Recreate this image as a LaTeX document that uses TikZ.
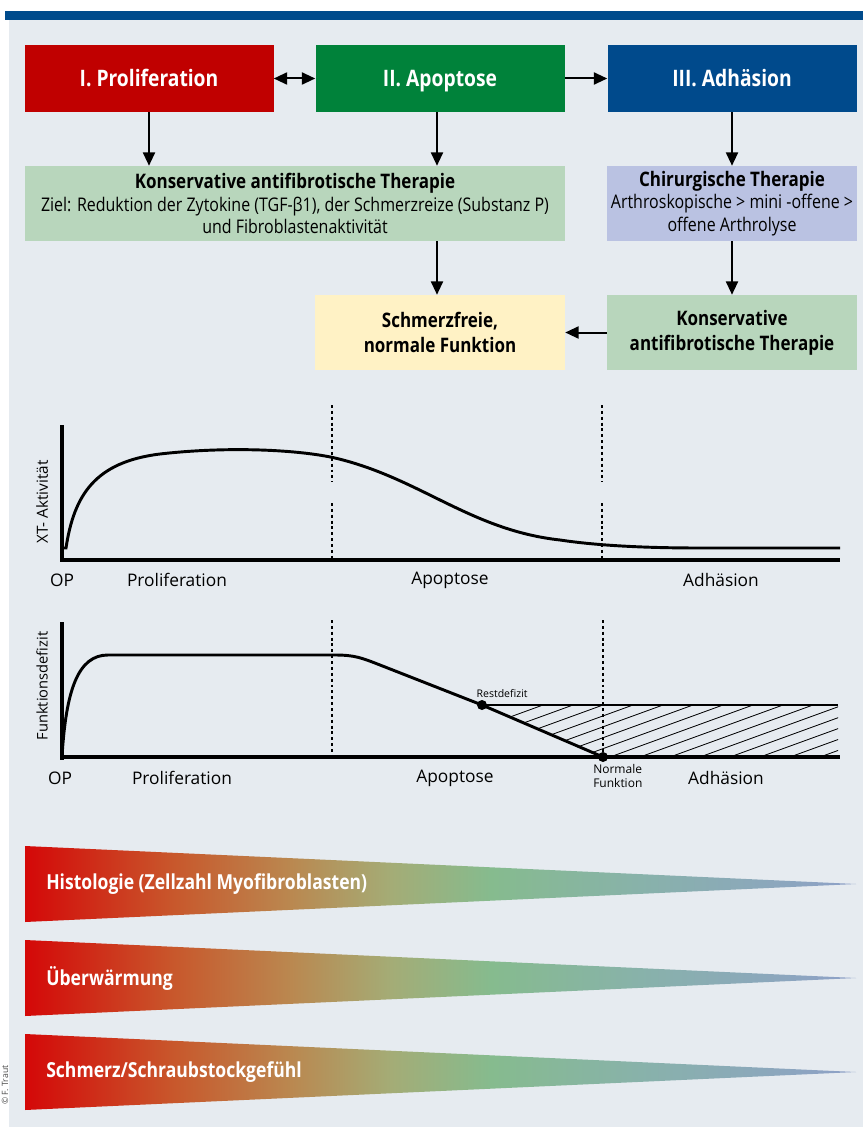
\documentclass[tikz,border=0pt]{standalone}
\usepackage{fontspec}
\setmainfont{Open Sans}
\newfontfamily\condfont{Open Sans}[FakeStretch=0.85]
\usetikzlibrary{calc, positioning, arrows.meta}

\definecolor{pagebg}{RGB}{230,235,240}
\definecolor{barblue}{RGB}{0,75,140}
\definecolor{prolred}{RGB}{192,0,0}
\definecolor{apopgreen}{RGB}{0,130,58}
\definecolor{adhblue}{RGB}{0,74,140}
\definecolor{konsgreen}{RGB}{184,214,188}
\definecolor{chirblue}{RGB}{186,194,226}
\definecolor{freeyellow}{RGB}{255,242,197}
\definecolor{wA}{RGB}{212,8,8}
\definecolor{wB}{RGB}{200,88,44}
\definecolor{wC}{RGB}{186,136,80}
\definecolor{wD}{RGB}{164,172,118}
\definecolor{wE}{RGB}{134,187,142}
\definecolor{wF}{RGB}{136,178,170}
\definecolor{wG}{RGB}{142,160,200}

\pgfdeclarehorizontalshading{wedgeshade}{100bp}{color(0bp)=(wA); color(25bp)=(wA);
  color(34bp)=(wB); color(41bp)=(wC); color(47bp)=(wD); color(53bp)=(wE);
  color(62bp)=(wF); color(75bp)=(wG); color(100bp)=(wG)}

\newdimen\pxu \pxu=0.75pt

\begin{document}
\begin{tikzpicture}
              [x=0.75pt, y=-0.75pt,
               phase/.style={minimum width=249\pxu, minimum height=67\pxu, inner sep=0pt,
                 text height=14pt, text depth=2pt,
                 text=white, font=\condfont\bfseries\fontsize{17}{20}\selectfont},
               therapy/.style={minimum width=250\pxu, minimum height=75\pxu, inner sep=0pt,
                 align=center, font=\condfont\fontsize{14.1}{17}\selectfont},
               result/.style={minimum width=250\pxu, minimum height=75\pxu, inner sep=0pt,
                 align=center, font=\condfont\bfseries\fontsize{15}{19}\selectfont},
               arr/.style={-{Triangle[length=10pt,width=9pt]}, line width=1.5pt},
               axis/.style={line width=2.5pt},
               curve/.style={line width=2.2pt},
               vdash/.style={line width=1.8pt, dash pattern=on 2.2pt off 2.2pt},
               hatch/.style={line width=0.6pt},
               dot/.style={circle, fill, inner sep=0pt, minimum size=7.5pt},
               lbl/.style={font=\fontsize{13}{15}\selectfont},
               small/.style={font=\fontsize{7.9}{9}\selectfont},
               wedgetext/.style={anchor=west, inner sep=0pt, text=white, font=\condfont\bfseries\fontsize{15.5}{18}\selectfont}]
              \useasboundingbox (0,0) rectangle (863,1127);
              % background %
              \fill[white] (0,0) rectangle (863,1127);
              \fill[pagebg] (9,20) rectangle (863,1127);
              \fill[barblue] (5,11) rectangle (863,20);
              \node[rotate=90, inner sep=0pt, font=\fontsize{6.5}{8}\selectfont, text=black!70] (copy) at (5,1085) {\copyright{} F. Traut};

              % nodes %
              \node[phase, fill=prolred] (prol) at (149,78.5) {I. Proliferation};
              \node[phase, fill=apopgreen] (apop) at (440,78.5) {II. Apoptose};
              \node[phase, fill=adhblue] (adh) at (732,78.5) {III. Adhäsion};
              \node[therapy, fill=konsgreen, minimum width=540\pxu] (kons) at (295,203.5)
                {{\bfseries\fontsize{15}{17}\selectfont Konservative antifibrotische Therapie}\\
                 Ziel: Reduktion der Zytokine (TGF-β1), der Schmerzreize (Substanz P)\\
                 und Fibroblastenaktivität};
              \node[therapy, fill=chirblue] (chir) at (732,203.5)
                {{\bfseries\fontsize{15}{17}\selectfont Chirurgische Therapie}\\
                 Arthroskopische > mini -offene >\\offene Arthrolyse};
              \node[result, fill=freeyellow] (frei) at (440,332.5) {Schmerzfreie,\\normale Funktion};
              \node[result, fill=konsgreen] (kons2) at (732,332.5) {Konservative\\antifibrotische Therapie};

              % edges %
              \draw[arr, {Triangle[length=10pt,width=9pt]}-{Triangle[length=10pt,width=9pt]}] (prol) -- (apop);
              \draw[arr] (apop) -- (adh);
              \draw[arr] (prol.south) -- (prol.south |- kons.north);
              \draw[arr] ([xshift=-3\pxu]apop.south) -- ([xshift=-3\pxu]apop.south |- kons.north);
              \draw[arr] (adh) -- (chir);
              \draw[arr] ([xshift=-3\pxu]kons.south -| frei.north) -- ([xshift=-3\pxu]frei.north);
              \draw[arr] (chir) -- (kons2);
              \draw[arr] (kons2) -- (frei);

              % graph XT activity %
              \draw[axis] (62,425) -- (62,562);
              \draw[axis] (61,560) -- (840,560);
              \draw[curve] (62,548) -- (66,548) .. controls (74,495) and (95,462) .. (160,454)
                .. controls (230,446) and (300,450) .. (335,458)
                .. controls (420,478) and (470,530) .. (560,540)
                .. controls (600,546) and (650,548) .. (700,548) -- (840,548);
              \foreach \xd in {332,602}{
                \draw[vdash] (\xd,405) -- (\xd,482);
                \draw[vdash] (\xd,503) -- (\xd,560);
              }
              \node[lbl] (op1) at (62,580) {OP};
              \node[lbl] (prol1) at (177,580) {Proliferation};
              \node[lbl] (apop1) at (450,580) {Apoptose};
              \node[lbl] (adh1) at (721,580) {Adhäsion};
              \node[rotate=90, font=\fontsize{11.5}{13}\selectfont] (xt) at (42,502) {XT- Aktivität};

              % graph function deficit %
              \begin{scope}
                \clip (482,705) -- (838,705) -- (838,757) -- (603,757) -- cycle;
                \foreach \i in {0,...,17}
                  \draw[hatch] (400+30*\i,757) -- ++(143,-52);
              \end{scope}
              \draw[axis] (62,622) -- (62,760);
              \draw[axis] (61,757) -- (840,757);
              \foreach \xd in {332,603}
                \draw[vdash] (\xd,620) -- (\xd,757);
              \node[dot] (rest) at (482,705) {};
              \node[dot] (norm) at (603,757) {};
              \draw[curve] (62,757) .. controls (66,690) and (78,655) .. (108,655) -- (335,655)
                .. controls (355,655) and (362,658) .. (380,665) -- (rest.center) -- (norm.center);
              \draw[curve] (rest.center) -- (838,705);
              \node[small, anchor=south west, inner sep=1pt] (restl) at (475,699) {Restdefizit};
              \node[small, anchor=north west, align=left, inner sep=0pt, font=\fontsize{9}{10.5}\selectfont] (norml) at (593,764) {Normale\\Funktion};
              \node[lbl] (op2) at (60,778) {OP};
              \node[lbl] (prol2) at (182,778) {Proliferation};
              \node[lbl] (apop2) at (455,778) {Apoptose};
              \node[lbl] (adh2) at (726,778) {Adhäsion};
              \node[rotate=90, font=\fontsize{11}{12}\selectfont] (fd) at (42,686) {Funktionsdefizit};

              % wedges %
              \foreach \yw/\txt in {846/Histologie (Zellzahl Myofibroblasten), 940/Überwärmung, 1034/Schmerz\slash Schraubstockgefühl}{
                \shade[shading=wedgeshade] (25,\yw) -- (856,\yw+38) -- (25,\yw+76) -- cycle;
                \node[wedgetext] at (46,\yw+38) {\txt};
              }
            \end{tikzpicture}
\end{document}
